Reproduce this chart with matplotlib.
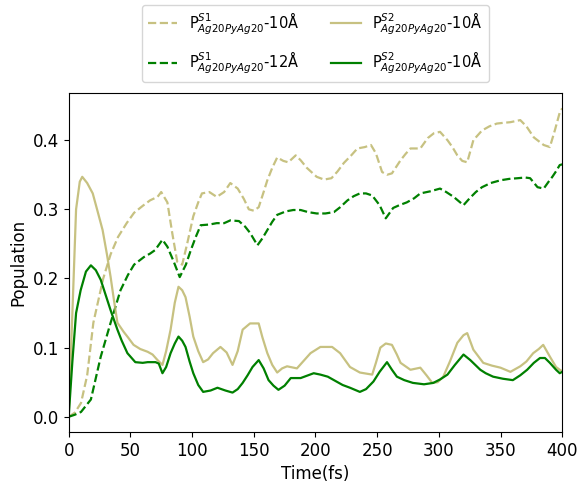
import numpy as np
import matplotlib.pyplot as plt

# P^S1 10Å (tirets kaki)
t_s1_10 = [0, 5, 10, 15, 20, 28, 34, 40, 47, 53, 60, 66, 72, 75, 80, 84, 88, 92, 96, 101, 105, 108,
           114, 120, 126, 131, 137, 142, 146, 150, 154, 158, 161, 165, 169, 174, 178, 184, 188, 193,
           201, 207, 213, 218, 223, 229, 234, 240, 245, 249, 254, 258, 262, 269, 273, 277, 285, 291,
           296, 301, 307, 311, 315, 319, 323, 328, 335, 341, 347, 352, 358, 366, 371, 377, 385, 390,
           394, 398, 400]
p_s1_10 = [0.0, 0.006, 0.02, 0.06, 0.136, 0.20, 0.235, 0.26, 0.28, 0.295, 0.305, 0.313, 0.318, 0.325,
           0.31, 0.265, 0.224, 0.22, 0.25, 0.29, 0.31, 0.323, 0.325, 0.318, 0.325, 0.338, 0.33, 0.315,
           0.30, 0.298, 0.303, 0.325, 0.342, 0.36, 0.375, 0.37, 0.368, 0.378, 0.371, 0.36, 0.347,
           0.343, 0.345, 0.355, 0.367, 0.378, 0.388, 0.39, 0.393, 0.381, 0.354, 0.35, 0.352, 0.371,
           0.38, 0.388, 0.388, 0.403, 0.41, 0.412, 0.40, 0.39, 0.378, 0.37, 0.368, 0.40, 0.414, 0.42,
           0.424, 0.425, 0.426, 0.429, 0.42, 0.404, 0.393, 0.39, 0.414, 0.44, 0.446]

# P^S1 12Å (tirets verts)
t_s1_12 = [0, 5, 10, 18, 26, 34, 42, 48, 53, 61, 66, 70, 76, 80, 85, 90, 95, 99, 103, 107, 114, 120,
           126, 131, 138, 143, 147, 153, 157, 161, 165, 169, 176, 182, 188, 194, 201, 208, 215, 220,
           226, 231, 236, 241, 246, 252, 257, 263, 268, 274, 280, 285, 293, 301, 306, 312, 316, 320,
           325, 330, 335, 342, 350, 357, 364, 370, 374, 380, 385, 389, 392, 395, 398, 400]
p_s1_12 = [0.0, 0.003, 0.007, 0.025, 0.087, 0.136, 0.183, 0.205, 0.22, 0.231, 0.236, 0.241, 0.256,
           0.246, 0.225, 0.202, 0.22, 0.241, 0.26, 0.277, 0.278, 0.28, 0.28, 0.284, 0.283, 0.275,
           0.266, 0.248, 0.258, 0.27, 0.282, 0.292, 0.297, 0.299, 0.299, 0.296, 0.294, 0.294, 0.296,
           0.303, 0.313, 0.319, 0.323, 0.323, 0.32, 0.306, 0.287, 0.302, 0.306, 0.31, 0.316, 0.323,
           0.326, 0.33, 0.325, 0.318, 0.312, 0.306, 0.316, 0.325, 0.332, 0.338, 0.342, 0.344, 0.345,
           0.346, 0.345, 0.332, 0.33, 0.34, 0.347, 0.355, 0.364, 0.365]

# P^S2 10Å (trait plein kaki)
t_s2_kaki = [0, 3, 6, 9, 11, 15, 19.5, 23, 27.5, 31, 34, 37, 39.5, 44.5, 48, 52.6, 58, 64, 68, 72, 76,
             79, 82.6, 86, 89, 92, 94.7, 98, 101, 105, 109, 113, 117, 123, 128, 132.8, 137, 141, 147,
             154, 157, 161, 165, 169, 173, 177, 185, 193.5, 196, 204, 213.5, 220, 228, 236, 246,
             249, 252.6, 257, 262, 266, 269, 277, 285, 290, 294.7, 299, 303.6, 309, 315, 320, 323,
             328, 336, 343, 350, 358, 366, 371, 376.5, 381, 384.6, 390, 395, 398, 400]
p_s2_kaki = [0.0, 0.15, 0.30, 0.34, 0.347, 0.338, 0.323, 0.30, 0.27, 0.235, 0.202, 0.165, 0.136, 0.123,
             0.115, 0.104, 0.098, 0.094, 0.09, 0.082, 0.075, 0.095, 0.126, 0.165, 0.188, 0.183, 0.173,
             0.145, 0.116, 0.095, 0.079, 0.083, 0.092, 0.101, 0.093, 0.075, 0.095, 0.126, 0.135,
             0.135, 0.115, 0.092, 0.075, 0.064, 0.07, 0.073, 0.07, 0.087, 0.092, 0.101, 0.101, 0.092,
             0.072, 0.064, 0.061, 0.078, 0.10, 0.106, 0.104, 0.09, 0.078, 0.068, 0.071, 0.06, 0.049,
             0.05, 0.058, 0.08, 0.107, 0.118, 0.121, 0.097, 0.078, 0.074, 0.071, 0.065, 0.073, 0.08,
             0.092, 0.098, 0.104, 0.087, 0.072, 0.068, 0.066]

# P^S2 10Å (trait plein vert)
t_s2_vert = [0, 3, 6, 9.7, 14, 18, 22, 26, 30, 34, 39.5, 43, 47.6, 54, 60, 64, 70.4, 73, 76, 79, 82.6,
             86, 89, 92, 94.7, 98, 101, 105, 109, 115, 120.6, 127, 132.8, 137, 141, 145, 149, 154,
             158, 162, 166, 170, 175, 180, 188, 198.6, 204, 210, 215, 222, 228, 236, 241, 247, 252,
             258, 262, 266, 272, 279, 288, 295.5, 301, 307, 313, 320, 325.5, 333.6, 338, 344, 352,
             360, 366, 371.6, 377, 382, 386, 390, 395, 398, 400]
p_s2_vert = [0.0, 0.08, 0.15, 0.183, 0.21, 0.219, 0.212, 0.198, 0.176, 0.154, 0.126, 0.11, 0.092,
             0.079, 0.078, 0.079, 0.079, 0.077, 0.063, 0.072, 0.092, 0.106, 0.116, 0.11, 0.101, 0.08,
             0.063, 0.046, 0.036, 0.038, 0.042, 0.038, 0.035, 0.04, 0.049, 0.06, 0.072, 0.082, 0.07,
             0.053, 0.045, 0.039, 0.045, 0.056, 0.056, 0.063, 0.061, 0.058, 0.053, 0.046, 0.042,
             0.036, 0.04, 0.051, 0.065, 0.079, 0.068, 0.058, 0.053, 0.049, 0.047, 0.049, 0.054, 0.061,
             0.075, 0.09, 0.082, 0.068, 0.063, 0.058, 0.055, 0.053, 0.06, 0.068, 0.078, 0.085, 0.085,
             0.078, 0.068, 0.063, 0.065]

kaki = "darkkhaki"
vert = "green"

fig = plt.figure(figsize=(5.82, 4.84), dpi=100)
ax = fig.add_axes([0.118, 0.107, 0.848, 0.701])

ax.plot(t_s1_10, p_s1_10, "--", color=kaki, lw=1.6, alpha=0.85, label=r"P$^{S1}_{Ag20PyAg20}$-10Å")
ax.plot(t_s1_12, p_s1_12, "--", color=vert, lw=1.6, label=r"P$^{S1}_{Ag20PyAg20}$-12Å")
ax.plot(t_s2_kaki, p_s2_kaki, "-", color=kaki, lw=1.6, alpha=0.85, label=r"P$^{S2}_{Ag20PyAg20}$-10Å")
ax.plot(t_s2_vert, p_s2_vert, "-", color=vert, lw=1.6, label=r"P$^{S2}_{Ag20PyAg20}$-10Å")

ax.set_xlim(0, 400)
ax.set_yticks([0.0, 0.1, 0.2, 0.3, 0.4])
ax.tick_params(labelsize=12)
ax.set_xlabel("Time(fs)", fontsize=12)
ax.set_ylabel("Population", fontsize=12)

ax.legend(loc="lower center", bbox_to_anchor=(0.5, 1.01), ncol=2, fontsize=10.5,
          columnspacing=2.2, labelspacing=0.9)

fig.savefig("out.png", dpi=100)
